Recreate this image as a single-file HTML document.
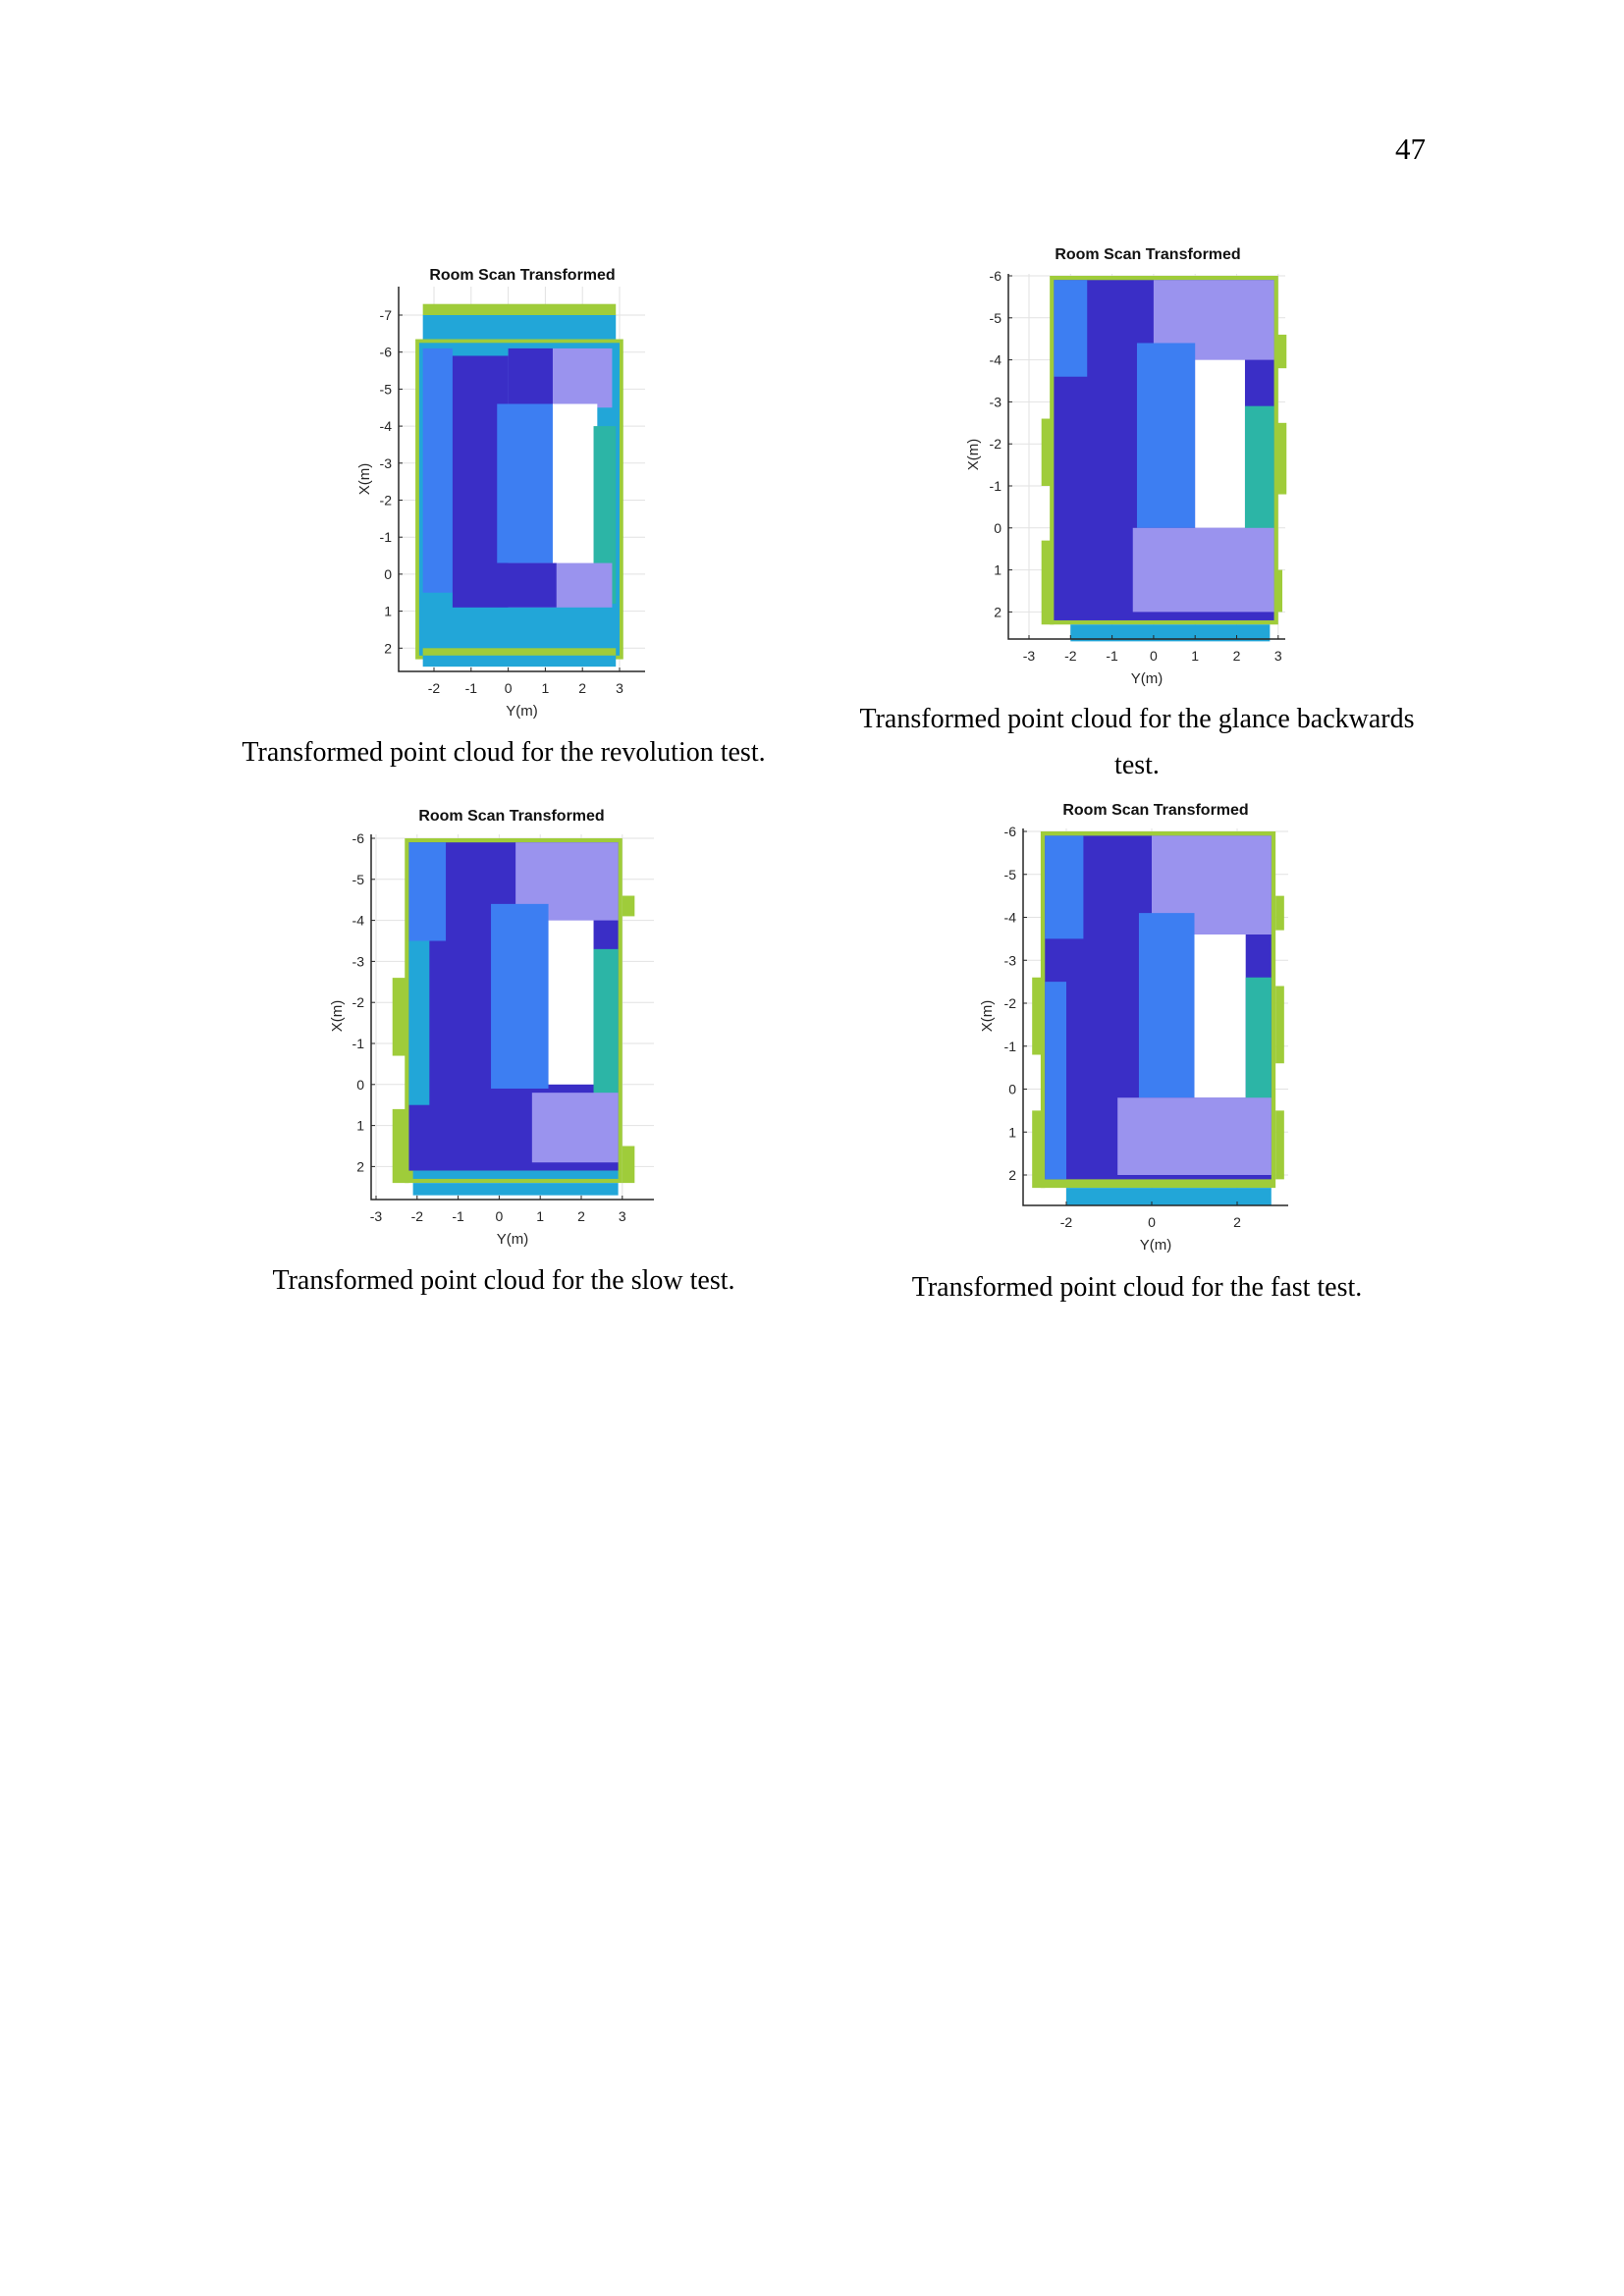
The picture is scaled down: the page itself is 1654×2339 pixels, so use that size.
<!DOCTYPE html>
<html><head><meta charset="utf-8">
<style>
html,body{margin:0;padding:0;background:#fff;}
body{width:1654px;height:2339px;position:relative;overflow:hidden;}
.cap{position:absolute;font-family:"Liberation Serif",serif;font-size:28px;color:#000;text-align:center;white-space:nowrap;}
#pg{position:absolute;left:1421px;top:134px;font-family:"Liberation Serif",serif;font-size:31px;}
svg{position:absolute;left:0;top:0;}
svg text{font-family:"Liberation Sans",sans-serif;}
</style></head>
<body>
<div id="pg">47</div>
<svg id="s" width="1654" height="2339"></svg>
<div class="cap" style="left:213px;top:751px;width:600px">Transformed point cloud for the revolution test.</div>
<div class="cap" style="left:858px;top:717px;width:600px">Transformed point cloud for the glance backwards</div>
<div class="cap" style="left:858px;top:764px;width:600px">test.</div>
<div class="cap" style="left:213px;top:1289px;width:600px">Transformed point cloud for the slow test.</div>
<div class="cap" style="left:858px;top:1296px;width:600px">Transformed point cloud for the fast test.</div>
<script>
// palette keys: G green wall, T teal, C cyan, L light blue, D dark blue, P sparse purple, W white
const palette = {G:'#9fcc3a',T:'#2cb5a6',C:'#22a6d8',L:'#3d7ef2',D:'#3a2ec6',P:'#9a93ee',W:'#ffffff'};
// tick arrays
const xticks1 = [-2,-1,0,1,2,3];
const yticks1 = [-7,-6,-5,-4,-3,-2,-1,0,1,2];
const xticks2 = [-3,-2,-1,0,1,2,3];
const yticks2 = [-6,-5,-4,-3,-2,-1,0,1,2];
const xticks3 = [-3,-2,-1,0,1,2,3];
const yticks3 = [-6,-5,-4,-3,-2,-1,0,1,2];
const xticks4 = [-2,0,2];
const yticks4 = [-6,-5,-4,-3,-2,-1,0,1,2];
// point-cloud regions: [Y0, Y1, X0, X1, colour]
const regions1 = [
 [-2.3,2.9,-7.3,-7.0,'G'],[-2.3,2.9,-7.0,-6.3,'C'],
 [-2.5,3.1,-6.35,2.3,'G'],[-2.4,3.0,-6.25,2.2,'C'],
 [-2.3,-1.5,-6.1,0.5,'L'],[-1.5,0.0,-5.9,1.0,'D'],
 [0.0,2.8,-6.1,-4.5,'P'],[-0.3,1.2,-4.6,-0.3,'L'],
 [0.0,1.2,-6.1,-4.6,'D'],
 [1.2,2.4,-4.6,0.0,'W'],[2.3,2.9,-4.0,0.8,'T'],
 [0.0,2.8,-0.3,1.0,'P'],[-0.3,1.3,-0.3,0.9,'D'],
 [-2.3,2.9,0.9,2.0,'C'],[-2.3,2.9,2.0,2.2,'G'],[-2.3,2.9,2.2,2.5,'C']
];
const regions2 = [
 [-2.5,3.0,-6.0,2.3,'G'],[-2.7,-2.4,-2.6,-1.0,'G'],[-2.7,-2.4,0.3,2.3,'G'],
 [2.9,3.2,-4.6,-3.8,'G'],[2.9,3.2,-2.5,-0.8,'G'],[2.9,3.1,1.0,2.0,'G'],
 [-2.4,2.9,-5.9,2.2,'D'],[-2.4,-1.6,-5.9,-3.6,'L'],
 [0.0,2.9,-5.9,-4.0,'P'],[-0.4,1.0,-4.4,0.0,'L'],
 [1.0,2.2,-4.0,0.0,'W'],[2.2,2.9,-2.9,1.0,'T'],
 [-0.5,2.9,0.0,2.0,'P'],[-2.0,2.8,2.3,2.7,'C']
];
const regions3 = [
 [-2.3,3.0,-6.0,2.4,'G'],[-2.6,-2.2,-2.6,-0.7,'G'],[-2.6,-2.2,0.6,2.4,'G'],
 [3.0,3.3,-4.6,-4.1,'G'],[3.0,3.3,1.5,2.4,'G'],
 [-2.2,2.9,-5.9,2.1,'D'],[-2.2,-1.3,-5.9,-3.5,'L'],[-2.2,-1.7,-3.5,0.5,'C'],
 [0.4,2.9,-5.9,-4.0,'P'],[-0.2,1.2,-4.4,0.1,'L'],
 [1.2,2.3,-4.0,0.0,'W'],[2.3,2.9,-3.3,0.6,'T'],
 [0.8,2.9,0.2,1.9,'P'],[-2.1,2.9,2.1,2.3,'C'],[-2.1,2.9,2.4,2.7,'C']
];
const regions4 = [
 [-2.6,2.9,-6.0,2.3,'G'],[-2.8,-2.5,-2.6,-0.8,'G'],[-2.8,-2.5,0.5,2.3,'G'],
 [2.9,3.1,-4.5,-3.7,'G'],[2.9,3.1,-2.4,-0.6,'G'],[2.9,3.1,0.5,2.1,'G'],
 [-2.5,2.8,-5.9,2.1,'D'],[-2.5,-1.6,-5.9,-3.5,'L'],[-2.5,-2.0,-2.5,2.1,'L'],
 [0.0,2.8,-5.9,-3.6,'P'],[-0.3,1.0,-4.1,0.2,'L'],
 [1.0,2.2,-3.6,0.2,'W'],[2.2,2.8,-2.6,0.6,'T'],
 [-0.8,2.8,0.2,2.0,'P'],[-2.0,2.8,2.3,2.7,'C']
];
const titles = ['Room Scan Transformed','Room Scan Transformed','Room Scan Transformed','Room Scan Transformed'];

const NS='http://www.w3.org/2000/svg';
const svg=document.getElementById('s');
function mk(tag,attrs,parent){const e=document.createElementNS(NS,tag);for(const k in attrs)e.setAttribute(k,attrs[k]);(parent||svg).appendChild(e);return e;}

function drawChart(cfg,regions,xt,yt,title,name){
  const g=mk('g',{});
  
  
  const sx=v=>cfg.x0+(v-cfg.xv0)*cfg.xs;
  const sy=v=>cfg.y0+(v-cfg.yv0)*cfg.ys;
  xt.forEach(v=>{const l=mk('line',{x1:sx(v),x2:sx(v),y1:cfg.top,y2:cfg.bottom,stroke:'#e2e2e2','stroke-width':1},g);
    
    });
  yt.forEach(v=>{const l=mk('line',{x1:cfg.left,x2:cfg.right,y1:sy(v),y2:sy(v),stroke:'#e2e2e2','stroke-width':1},g);
    
    });
  regions.forEach(r=>{
    const xa=sx(Math.min(r[0],r[1])),xb=sx(Math.max(r[0],r[1]));
    const ya=sy(Math.min(r[2],r[3])),yb=sy(Math.max(r[2],r[3]));
    const e=mk('rect',{x:xa,y:ya,width:xb-xa,height:yb-ya,fill:palette[r[4]]},g);
    
    
  });
  const ax=mk('path',{d:`M${cfg.left},${cfg.top}V${cfg.bottom}H${cfg.right}`,stroke:'#262626',fill:'none','stroke-width':1.5},g);
  
  
  xt.forEach(v=>{
    mk('line',{x1:sx(v),x2:sx(v),y1:cfg.bottom,y2:cfg.bottom-4,stroke:'#262626'},g);
    const t=mk('text',{x:sx(v),y:cfg.bottom+22,'font-size':14,'text-anchor':'middle',fill:'#262626'},g);
    t.textContent=v;
    
    
  });
  yt.forEach(v=>{
    mk('line',{x1:cfg.left,x2:cfg.left+4,y1:sy(v),y2:sy(v),stroke:'#262626'},g);
    const t=mk('text',{x:cfg.left-7,y:sy(v)+5,'font-size':14,'text-anchor':'end',fill:'#262626'},g);
    t.textContent=v;
    
    
  });
  const xl=mk('text',{x:(cfg.left+cfg.right)/2,y:cfg.bottom+45,'font-size':15,'text-anchor':'middle',fill:'#262626'},g);
  xl.textContent='Y(m)';
  
  
  const yl=mk('text',{x:0,y:0,'font-size':15,'text-anchor':'middle',fill:'#262626',transform:`translate(${cfg.ylx},${cfg.yly}) rotate(-90)`},g);
  yl.textContent='X(m)';
  
  
  const tt=mk('text',{x:cfg.tx,y:cfg.ty,'font-size':16,'font-weight':'bold','text-anchor':'middle',fill:'#111'},g);
  tt.textContent=title;
  
  
}
drawChart({x0:442,xv0:-2,xs:37.8,y0:321,yv0:-7,ys:37.7,left:406,right:657,top:292,bottom:684,ylx:376,yly:488,tx:532,ty:285},regions1,xticks1,yticks1,titles[0],'chart-revolution');
drawChart({x0:1048,xv0:-3,xs:42.3,y0:281,yv0:-6,ys:42.8,left:1027,right:1309,top:279,bottom:651,ylx:996,yly:463,tx:1169,ty:264},regions2,xticks2,yticks2,titles[1],'chart-glance-backwards');
drawChart({x0:383,xv0:-3,xs:41.8,y0:854,yv0:-6,ys:41.8,left:378,right:666,top:850,bottom:1222,ylx:348,yly:1035,tx:521,ty:836},regions3,xticks3,yticks3,titles[2],'chart-slow');
drawChart({x0:1173,xv0:0,xs:43.5,y0:847,yv0:-6,ys:43.75,left:1042,right:1312,top:844,bottom:1228,ylx:1010,yly:1035,tx:1177,ty:830},regions4,xticks4,yticks4,titles[3],'chart-fast');
</script>
</body></html>
